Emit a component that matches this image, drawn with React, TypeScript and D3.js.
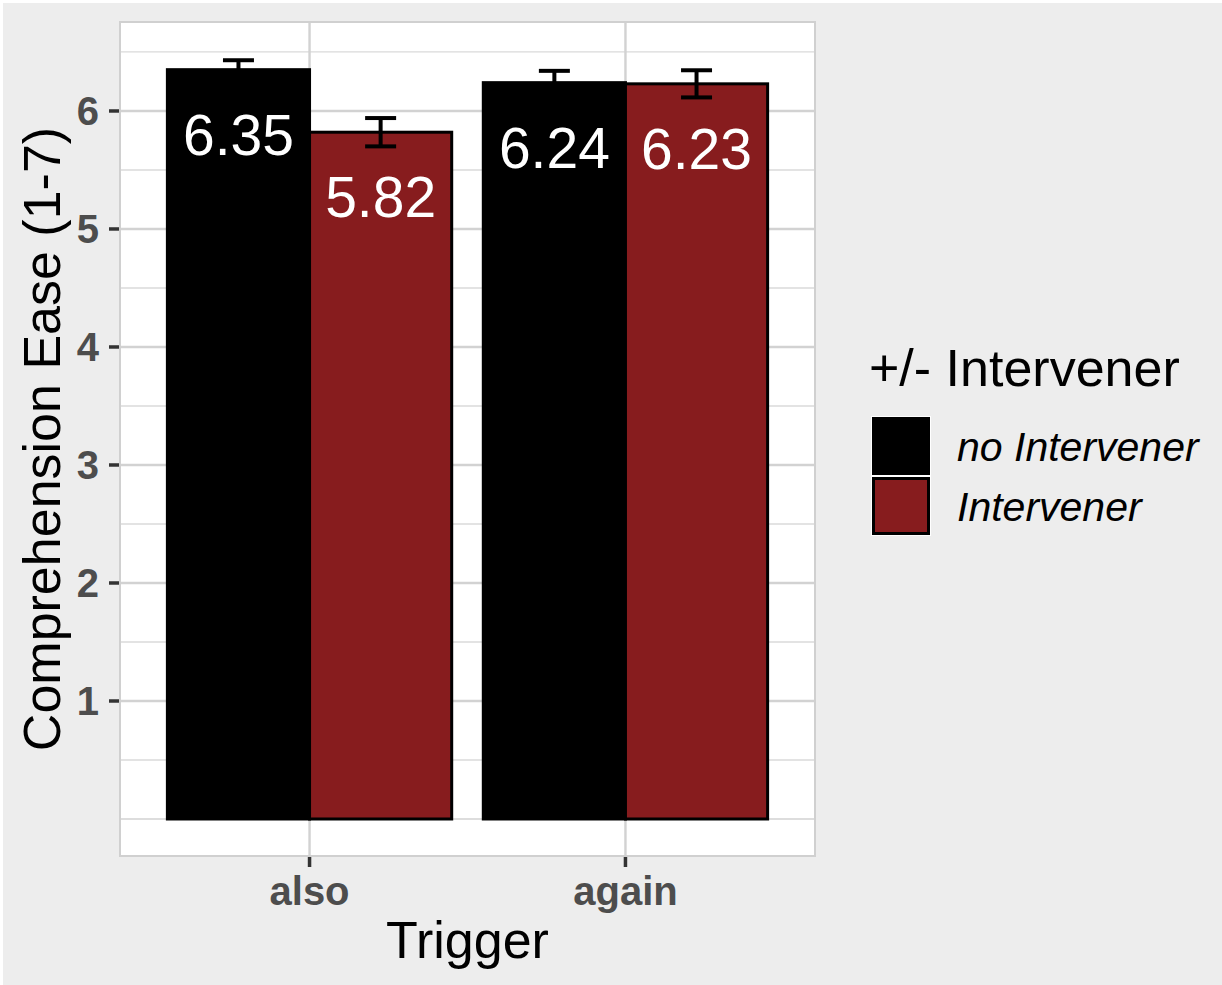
import React from "react";
import * as d3 from "d3";

const triggers = ["also", "again"];
const conditions = ["no Intervener", "Intervener"];
const meansNoIntervener = [6.35, 6.24];
const meansIntervener = [5.82, 6.23];
const seNoIntervener = [0.08, 0.1];
const seIntervener = [0.12, 0.115];
const yTicks = [1, 2, 3, 4, 5, 6];
const yGridMajor = [0, 1, 2, 3, 4, 5, 6];
const yGridMinor = [0.5, 1.5, 2.5, 3.5, 4.5, 5.5, 6.5];
const fills = ["#000000", "#871C1E"];

const W = 1222;
const H = 985;
const panel = { left: 120, right: 815, top: 22, bottom: 856 };
const FONT = "'Liberation Sans', Arial, Helvetica, sans-serif";

export default function App() {
  const x = d3
    .scalePoint<string>()
    .domain(triggers)
    .range([panel.left, panel.right])
    .padding(0.6);
  const step = x.step();
  const sub = d3
    .scaleBand<string>()
    .domain(conditions)
    .range([-0.45 * step, 0.45 * step]);
  const y = d3
    .scaleLinear()
    .domain([-0.3136, 6.754])
    .range([panel.bottom, panel.top]);

  const rows = triggers.flatMap((t, i) => [
    { trigger: t, cond: conditions[0], mean: meansNoIntervener[i], se: seNoIntervener[i], fill: fills[0] },
    { trigger: t, cond: conditions[1], mean: meansIntervener[i], se: seIntervener[i], fill: fills[1] },
  ]);
  const capHalf = 15.5;
  const y0 = y(0);

  return (
    <div style={{ position: "absolute", left: 0, top: 0 }}>
      <svg width={W} height={H} style={{ display: "block", fontFamily: FONT }}>
        <rect x={0} y={0} width={W} height={H} fill="#ffffff" />
        <rect x={3} y={3} width={W - 3} height={H - 3} fill="#EDEDED" />
        {/* panel */}
        <rect
          x={panel.left}
          y={panel.top}
          width={panel.right - panel.left}
          height={panel.bottom - panel.top}
          fill="#ffffff"
        />
        {yGridMinor.map((v) => (
          <line key={"mn" + v} x1={panel.left} x2={panel.right} y1={y(v)} y2={y(v)} stroke="#DADADA" strokeWidth={1.3} />
        ))}
        {yGridMajor.map((v) => (
          <line
            key={"mj" + v}
            x1={panel.left}
            x2={panel.right}
            y1={y(v)}
            y2={y(v)}
            stroke="#D2D2D2"
            strokeWidth={v === 0 ? 1.5 : 2.4}
          />
        ))}
        {triggers.map((t) => (
          <line key={"gx" + t} x1={x(t)} x2={x(t)} y1={panel.top} y2={panel.bottom} stroke="#D2D2D2" strokeWidth={2.4} />
        ))}
        <rect
          x={panel.left}
          y={panel.top}
          width={panel.right - panel.left}
          height={panel.bottom - panel.top}
          fill="none"
          stroke="#D0D0D0"
          strokeWidth={2}
        />
        {/* bars */}
        {rows.map((r) => {
          const bx = (x(r.trigger) as number) + (sub(r.cond) as number);
          const bw = sub.bandwidth();
          return (
            <rect
              key={"b" + r.trigger + r.cond}
              x={bx}
              y={y(r.mean)}
              width={bw}
              height={y0 - y(r.mean)}
              fill={r.fill}
              stroke="#000"
              strokeWidth={3}
            />
          );
        })}
        {/* error bars */}
        {rows.map((r) => {
          const cx = (x(r.trigger) as number) + (sub(r.cond) as number) + sub.bandwidth() / 2;
          const yt = y(r.mean + r.se);
          const yb = y(r.mean - r.se);
          return (
            <g key={"e" + r.trigger + r.cond} stroke="#000" strokeWidth={4}>
              <line x1={cx} x2={cx} y1={yt} y2={yb} />
              <line x1={cx - capHalf} x2={cx + capHalf} y1={yt} y2={yt} />
              <line x1={cx - capHalf} x2={cx + capHalf} y1={yb} y2={yb} />
            </g>
          );
        })}
        {/* value labels */}
        {rows.map((r) => {
          const cx = (x(r.trigger) as number) + (sub(r.cond) as number) + sub.bandwidth() / 2;
          return (
            <text
              key={"l" + r.trigger + r.cond}
              x={cx}
              y={y(r.mean) + 85}
              fill="#ffffff"
              fontSize={57}
              textAnchor="middle"
            >
              {r.mean.toFixed(2)}
            </text>
          );
        })}
        {/* y axis */}
        {yTicks.map((v) => (
          <g key={"yt" + v}>
            <line x1={109} x2={119} y1={y(v)} y2={y(v)} stroke="#333333" strokeWidth={3.5} />
            <text
              x={99}
              y={y(v) + 14}
              textAnchor="end"
              fontSize={40}
              fontWeight="bold"
              fill="#4D4D4D"
            >
              {v}
            </text>
          </g>
        ))}
        {/* x axis */}
        {triggers.map((t) => (
          <g key={"xt" + t}>
            <line x1={x(t)} x2={x(t)} y1={857} y2={867} stroke="#333333" strokeWidth={3.5} />
            <text x={x(t)} y={905} textAnchor="middle" fontSize={40} fontWeight="bold" fill="#4D4D4D">
              {t}
            </text>
          </g>
        ))}
        <text x={(panel.left + panel.right) / 2} y={958} textAnchor="middle" fontSize={52} fill="#000">
          Trigger
        </text>
        <text
          transform={`translate(60, ${(panel.top + panel.bottom) / 2}) rotate(-90)`}
          textAnchor="middle"
          fontSize={52}
          fill="#000"
        >
          Comprehension Ease (1-7)
        </text>
        {/* legend */}
        <text x={869} y={386} fontSize={52} fill="#000">
          +/- Intervener
        </text>
        {conditions.map((c, i) => {
          const ky = 417 + i * 60;
          return (
            <g key={"lg" + c}>
              <rect x={871} y={ky - 1} width={60} height={60} fill="#ffffff" />
              <rect x={873.5} y={ky + 1.5} width={55} height={55} fill={fills[i]} stroke="#000" strokeWidth={3} />
              <text x={957} y={ky + 44} fontSize={41} fontStyle="italic" fill="#000">
                {c}
              </text>
            </g>
          );
        })}
      </svg>
    </div>
  );
}
